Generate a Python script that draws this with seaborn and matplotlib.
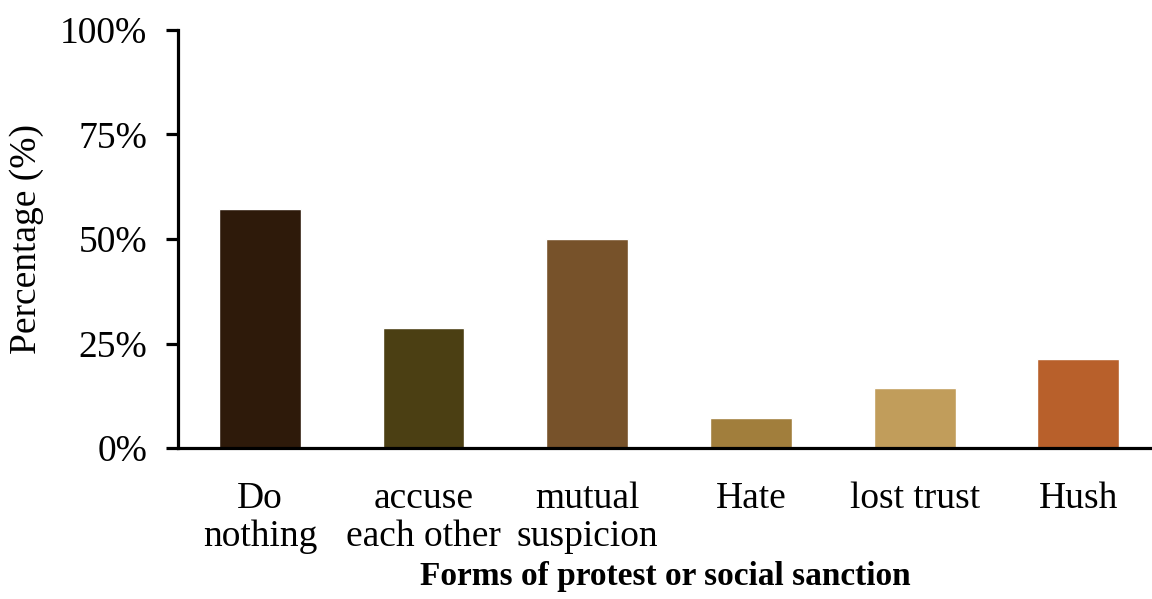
import pandas as pd
import matplotlib.pyplot as plt
import seaborn as sns
from matplotlib.ticker import PercentFormatter

sns.set_style('white')
plt.rcParams['font.family'] = ['Liberation Serif', 'DejaVu Serif']
plt.rcParams['text.color'] = 'black'
plt.rcParams['axes.labelcolor'] = 'black'
plt.rcParams['xtick.color'] = 'black'
plt.rcParams['ytick.color'] = 'black'

categories = ['Do\nnothing', 'accuse\neach other', 'mutual\nsuspicion', 'Hate', 'lost trust', 'Hush']
percent = [57.1, 28.6, 50.0, 7.1, 14.3, 21.4]
colors = ['#2E1A0A', '#4B3F13', '#77522A', '#A17E3C', '#C19D5B', '#B8602B']
yticks = [0, 25, 50, 75, 100]

df = pd.DataFrame({'form': categories, 'pct': percent})

fig = plt.figure(figsize=(11.52, 5.99), dpi=100)
ax = fig.add_axes([0.1545, 0.252, 0.8455, 0.698])

sns.barplot(data=df, x='form', y='pct', hue='form', palette=colors,
            width=0.5, legend=False, ax=ax, saturation=1)

ax.set_ylim(0, 100)
ax.set_xlim(-0.5, 5.45)
ax.set_yticks(yticks)
ax.yaxis.set_major_formatter(PercentFormatter(decimals=0))

for s in ['top', 'right']:
    ax.spines[s].set_visible(False)
for s in ['left', 'bottom']:
    ax.spines[s].set_linewidth(2.3)
    ax.spines[s].set_color('black')

ax.tick_params(axis='y', which='major', direction='out', length=9, width=2.3,
               labelsize=27, pad=13, left=True)
ax.tick_params(axis='x', length=0, labelsize=27, pad=24)
for lab in ax.get_xticklabels():
    lab.set_linespacing(1.15)

ax.set_ylabel('Percentage (%)', fontsize=27, labelpad=12)
ax.set_xlabel('Forms of protest or social sanction', fontsize=24,
              fontweight='bold', labelpad=5)

fig.savefig('out.png', dpi=100)
